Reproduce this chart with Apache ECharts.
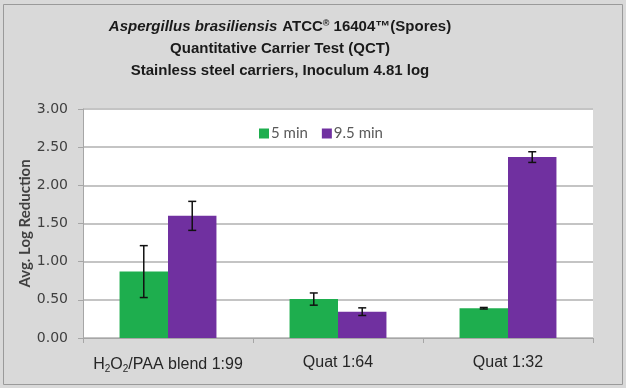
<!DOCTYPE html>
<html><head><meta charset="utf-8">
<script src="https://cdn.jsdelivr.net/npm/echarts@6/dist/echarts.min.js"></script>
<style>html,body{margin:0;padding:0;background:#d9d9d9}#c{width:626px;height:388px}</style>
</head><body><div id="c"></div>
<script>
var categories = ['{t|H}{sub|2}{t|O}{sub|2}{t|/PAA blend 1:99}', '{t|Quat 1:64}', '{t|Quat 1:32}'];
var seriesNames = ['5 min', '9.5 min'];
var values5 = [0.87, 0.51, 0.39];
var values95 = [1.60, 0.345, 2.37];
var err5 = [0.34, 0.08, 0.01];
var err95 = [0.19, 0.05, 0.07];
var yTicks = [0, 0.5, 1, 1.5, 2, 2.5, 3];

var BAR_FRAC = 0.285;
function errSeries(vals, errs, sign) {
  return {
    type: 'custom', z: 10, silent: true,
    data: vals.map(function (v, i) { return [i, v - errs[i], v + errs[i]]; }),
    renderItem: function (params, api) {
      var cw = api.size([1, 0])[0];
      var off = sign * BAR_FRAC * cw / 2;
      var lo = api.coord([api.value(0), api.value(1)]);
      var hi = api.coord([api.value(0), api.value(2)]);
      var x = lo[0] + off, h = 4;
      var st = { stroke: '#111', lineWidth: 1.5 };
      return { type: 'group', children: [
        { type: 'line', shape: { x1: x, y1: lo[1], x2: x, y2: hi[1] }, style: st },
        { type: 'line', shape: { x1: x - h, y1: lo[1], x2: x + h, y2: lo[1] }, style: st },
        { type: 'line', shape: { x1: x - h, y1: hi[1], x2: x + h, y2: hi[1] }, style: st }
      ]};
    }
  };
}

var chart = echarts.init(document.getElementById('c'));
chart.setOption({
  backgroundColor: '#d9d9d9',
  animation: false,
  graphic: [
    { type: 'rect', shape: { x: 3.5, y: 4.5, width: 619, height: 380 }, style: { fill: 'none', stroke: '#9a9a9a', lineWidth: 1 } },
    { type: 'rect', z: -1, shape: { x: 83, y: 109, width: 510, height: 229 }, style: { fill: '#ffffff' } }
  ],
  title: {
    text: '{i|Aspergillus brasiliensis} {b|ATCC}{sup|®}{b| 16404™(Spores)}\n{b|Quantitative Carrier Test (QCT)}\n{b|Stainless steel carriers, Inoculum 4.81 log}',
    left: 275, top: 11, textAlign: 'center',
    textStyle: {
      rich: {
        i: { fontFamily: 'Liberation Sans', fontSize: 15, fontWeight: 'bold', fontStyle: 'italic', color: '#1a1a1a', lineHeight: 22 },
        b: { fontFamily: 'Liberation Sans', fontSize: 15, fontWeight: 'bold', color: '#1a1a1a', lineHeight: 22 },
        sup: { fontFamily: 'Liberation Sans', fontSize: 9, fontWeight: 'bold', color: '#1a1a1a', padding: [0, 0, 7, 0] }
      }
    }
  },
  legend: {
    data: seriesNames, left: 254, top: 121, itemWidth: 10, itemHeight: 10, itemGap: 14,
    icon: 'rect',
    textStyle: { fontFamily: 'Lato', fontSize: 15, color: '#595959', padding: [0, 0, 0, -3] }
  },
  grid: { left: 83, right: 33, top: 109, bottom: 50 },
  xAxis: {
    type: 'category', data: categories,
    axisLine: { lineStyle: { color: '#a6a6a6', width: 1 } },
    axisTick: { show: true, length: 5, lineStyle: { color: '#a6a6a6' } },
    axisLabel: {
      margin: 17, interval: 0,
      rich: {
        t: { fontFamily: 'Liberation Sans', fontSize: 16, color: '#262626' },
        sub: { fontFamily: 'Liberation Sans', fontSize: 10, color: '#262626', padding: [9, 0, 0, 0] }
      }
    }
  },
  yAxis: {
    type: 'value', min: 0, max: 3, interval: 0.5,
    name: 'Avg. Log Reduction', nameLocation: 'middle', nameGap: 50, nameRotate: 90,
    nameMoveOverlap: false,
    nameTextStyle: { fontFamily: 'Lato', fontWeight: 'bold', fontSize: 15, color: '#404040' },
    axisLine: { show: true, lineStyle: { color: '#a6a6a6' } },
    axisTick: { show: true, length: 5, lineStyle: { color: '#a6a6a6' } },
    axisLabel: { fontFamily: 'DejaVu Sans', fontSize: 14, color: '#404040', margin: 15,
      formatter: function (v) { return v.toFixed(2); } },
    splitLine: { lineStyle: { color: '#c4c4c4', width: 2 } }
  },
  series: [
    { name: seriesNames[0], type: 'bar', data: values5, barWidth: (BAR_FRAC * 100) + '%', barGap: '0%',
      itemStyle: { color: '#1eae4e' } },
    { name: seriesNames[1], type: 'bar', data: values95, barWidth: (BAR_FRAC * 100) + '%', barGap: '0%',
      itemStyle: { color: '#7030a0' } },
    errSeries(values5, err5, -1),
    errSeries(values95, err95, 1)
  ]
});
</script></body></html>
